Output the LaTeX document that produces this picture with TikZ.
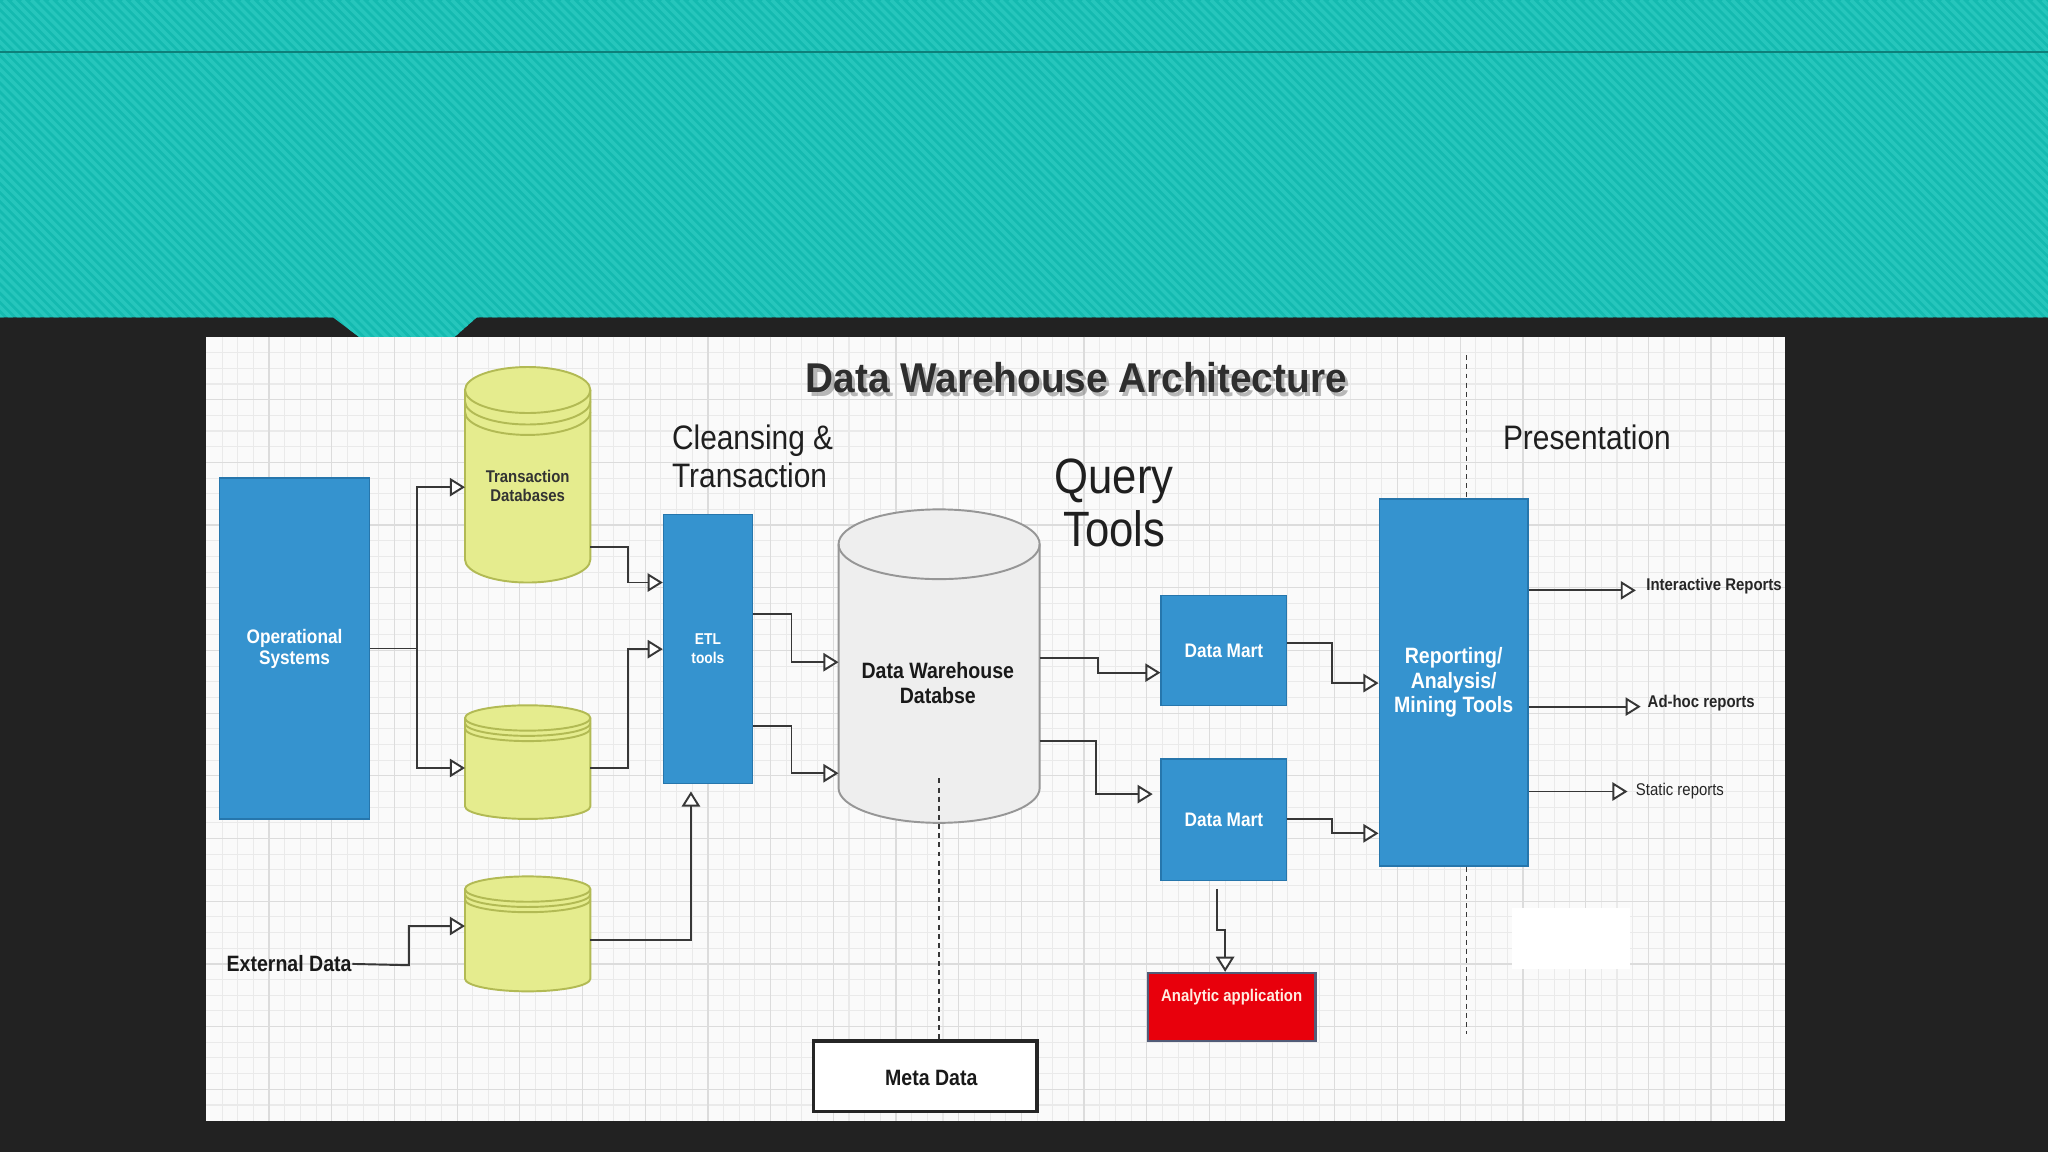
\documentclass[tikz,border=0pt]{standalone}
\usepackage{fontspec}
\setmainfont{Liberation Sans}
\newfontfamily\nar[FakeStretch=0.88]{Liberation Sans}
\newfontfamily\tnar[FakeStretch=0.93]{Liberation Sans}
\usetikzlibrary{arrows.meta,calc}
\newlength\pxu
\setlength\pxu{0.013061cm}
\definecolor{darkbg}{RGB}{34,34,34}
\definecolor{tealbase}{RGB}{20,186,176}
\definecolor{tealstripe}{RGB}{38,198,188}
\definecolor{tealline}{RGB}{14,128,122}
\definecolor{panelbg}{RGB}{250,250,250}
\definecolor{gridminor}{RGB}{234,234,234}
\definecolor{gridmajor}{RGB}{220,220,220}
\definecolor{boxblue}{RGB}{53,147,207}
\definecolor{boxblueb}{RGB}{38,118,172}
\definecolor{ylw}{RGB}{229,236,142}
\definecolor{ylwb}{RGB}{178,186,84}
\definecolor{dwfill}{RGB}{238,238,238}
\definecolor{dwb}{RGB}{150,150,150}
\definecolor{redbox}{RGB}{232,0,12}
\definecolor{redboxb}{RGB}{82,92,120}
\definecolor{ink}{RGB}{40,40,40}
\definecolor{lineink}{RGB}{55,55,55}
\newcommand\fpx[2]{\fontsize{#1}{#2}\selectfont}
\tikzset{
  cylline/.style={line width=0.55pt},
  bbox/.style={rectangle, draw=boxblueb, fill=boxblue, line width=0.4pt, text=white, align=center, inner sep=0pt},
  ghost/.style={rectangle, inner sep=0pt, outer sep=0pt},
  txt/.style={inner sep=0pt, align=center, text=ink},
  conn/.style={draw=lineink, line width=0.55pt, -{Triangle[length=4.3pt,width=5.2pt,fill=white]}},
  plainline/.style={draw=lineink, line width=0.55pt},
  dashline/.style={draw=lineink, line width=0.4pt, dash pattern=on 1.4pt off 1.2pt},
  stripe/.style={draw=tealstripe, line width=1pt},
  titlefont/.style={font=\tnar\bfseries\fpx{11.85pt}{12.4pt}, inner sep=0pt},
}
\newcommand\cylarc[5]{%
  \pgfmathsetmacro\caCX{(#1+#2)/2}%
  \pgfmathsetmacro\caKX{0.5523*(#2-#1)/2}%
  \pgfmathsetmacro\caKY{0.5523*#4}%
  \draw[draw=#5, cylline] (#1,#3) .. controls (#1,#3+\caKY) and (\caCX-\caKX,#3+#4) .. (\caCX,#3+#4) .. controls (\caCX+\caKX,#3+#4) and (#2,#3+\caKY) .. (#2,#3);%
}
\newcommand\mycyl[7]{%
  \pgfmathsetmacro\cyCX{(#1+#2)/2}%
  \pgfmathsetmacro\cyKX{0.5523*(#2-#1)/2}%
  \pgfmathsetmacro\cyKY{0.5523*#5}%
  \pgfmathsetmacro\cyTC{#3+#5}%
  \pgfmathsetmacro\cyBC{#4-#5}%
  \path[fill=#6, draw=#7, cylline]
    (#1,\cyTC) -- (#1,\cyBC)
    .. controls (#1,\cyBC+\cyKY) and (\cyCX-\cyKX,#4) .. (\cyCX,#4)
    .. controls (\cyCX+\cyKX,#4) and (#2,\cyBC+\cyKY) .. (#2,\cyBC)
    -- (#2,\cyTC)
    .. controls (#2,\cyTC-\cyKY) and (\cyCX+\cyKX,#3) .. (\cyCX,#3)
    .. controls (\cyCX-\cyKX,#3) and (#1,\cyTC-\cyKY) .. (#1,\cyTC) -- cycle;%
  \cylarc{#1}{#2}{\cyTC}{#5}{#7}%
}
\begin{document}
\begin{tikzpicture}[x=0.013061cm, y=-0.013061cm]
\useasboundingbox (0,0) rectangle (1568,882);
% background
\fill[darkbg] (0,0) rectangle (1568,882);
\fill[tealbase] (0,0) -- (1568,0) -- (1568,243) -- (365,243) -- (348,258) -- (275,258) -- (255,243) -- (0,243) -- cycle;
\begin{scope}
  \clip (0,0) -- (1568,0) -- (1568,243) -- (365,243) -- (348,258) -- (275,258) -- (255,243) -- (0,243) -- cycle;
  \foreach \s in {-270,-263,...,1568} \draw[stripe] (\s,0) -- (\s+270,270);
\end{scope}
\draw[tealline, line width=0.6pt] (0,40) -- (1568,40);
% panel
\fill[panelbg] (158,258) rectangle (1367,858);
\foreach \gx in {170,182,...,1366} \draw[gridminor, line width=0.3pt] (\gx,258) -- (\gx,858);
\foreach \gy in {270,282,...,857} \draw[gridminor, line width=0.3pt] (158,\gy) -- (1367,\gy);
\foreach \gx in {206,254,...,1366} \draw[gridmajor, line width=0.35pt] (\gx,258) -- (\gx,858);
\foreach \gy in {306,354,...,857} \draw[gridmajor, line width=0.35pt] (158,\gy) -- (1367,\gy);
% title with drop shadow
\node[titlefont, text=black!60, opacity=0.45] (tshadow) at (826.5,292.5) {Data Warehouse Architecture};
\node[titlefont, text=black!82] (title) at (824,289) {Data Warehouse Architecture};
% section labels
\node[txt, align=left, anchor=west, font=\nar\fpx{9.66pt}{10.78pt}, text=black!88] (clean) at (514,349.5) {Cleansing \&\\Transaction};
\node[txt, font=\nar\fpx{14.12pt}{15.24pt}, text=black!88] (query) at (853,385) {Query\\Tools};
\node[txt, font=\nar\fpx{9.66pt}{10.78pt}, text=black!88] (pres) at (1215,335) {Presentation};
% cylinders
\mycyl{356}{452}{281}{446}{17.6}{ylw}{ylwb}
\cylarc{356}{452}{307.4}{17.6}{ylwb}
\cylarc{356}{452}{315.4}{17.6}{ylwb}
\mycyl{356}{452}{540}{627}{9.7}{ylw}{ylwb}
\cylarc{356}{452}{553.7}{9.7}{ylwb}
\cylarc{356}{452}{557.7}{9.7}{ylwb}
\mycyl{356}{452}{671}{759}{9.7}{ylw}{ylwb}
\cylarc{356}{452}{684.7}{9.7}{ylwb}
\cylarc{356}{452}{688.7}{9.7}{ylwb}
\mycyl{642}{796}{390}{630}{26.7}{dwfill}{dwb}
\node[ghost, minimum width=96*\pxu, minimum height=165*\pxu] (tdb) at (404,363.5) {};
\node[ghost, minimum width=96*\pxu, minimum height=87*\pxu] (db2) at (404,583.5) {};
\node[ghost, minimum width=96*\pxu, minimum height=88*\pxu] (db3) at (404,715) {};
\node[ghost, minimum width=154*\pxu, minimum height=240*\pxu] (dw) at (719,510) {};
\node[txt, font=\nar\bfseries\fpx{4.83pt}{5.3pt}, text=black!80] (tdbl) at (404,372) {Transaction\\Databases};
\node[txt, font=\nar\bfseries\fpx{6.32pt}{6.9pt}, text=black!90] (dwl) at (718,523) {Data Warehouse\\Databse};
% boxes
\node[bbox, minimum width=115*\pxu, minimum height=261*\pxu, font=\nar\bfseries\fpx{5.57pt}{6.0pt}] (os) at (225.5,496.5) {Operational\\Systems};
\node[bbox, minimum width=68*\pxu, minimum height=206*\pxu, font=\nar\bfseries\fpx{4.46pt}{5.4pt}] (etl) at (542,497) {ETL\\tools};
\node[bbox, minimum width=96*\pxu, minimum height=84*\pxu, font=\nar\bfseries\fpx{5.57pt}{6.1pt}] (dm1) at (937,498) {Data Mart};
\node[bbox, minimum width=96*\pxu, minimum height=93*\pxu, font=\nar\bfseries\fpx{5.57pt}{6.1pt}] (dm2) at (937,627.5) {Data Mart};
\node[bbox, minimum width=114*\pxu, minimum height=281*\pxu, font=\nar\bfseries\fpx{6.32pt}{6.9pt}] (rep) at (1113,522.5) {Reporting/\\Analysis/\\Mining Tools};
\node[rectangle, draw=black!85, fill=white, line width=0.9pt, minimum width=171*\pxu, minimum height=54*\pxu, inner sep=0pt] (meta) at (708.5,824) {};
\node[txt, font=\nar\bfseries\fpx{6.32pt}{6.9pt}, text=black!90] (metal) at (713,825) {Meta Data};
\node[rectangle, draw=redboxb, fill=redbox, line width=0.7pt, minimum width=128*\pxu, minimum height=52*\pxu, inner sep=0pt] (ana) at (943,771) {};
\node[txt, font=\nar\bfseries\fpx{4.83pt}{5.3pt}, text={rgb,255:red,255;green,236;blue,225}] (anal) at (943,763.5) {Analytic application};
\fill[white] (1158,695) rectangle (1248,742);
% plain texts
\node[txt, anchor=west, font=\nar\bfseries\fpx{6.32pt}{6.9pt}, text=black!90] (ext) at (173,738) {External Data};
\node[txt, anchor=west, font=\nar\bfseries\fpx{4.83pt}{5.3pt}, text=black!85] (ir) at (1260,448.5) {Interactive Reports};
\node[txt, anchor=west, font=\nar\bfseries\fpx{4.83pt}{5.3pt}, text=black!85] (ah) at (1261,538.5) {Ad-hoc reports};
\node[txt, anchor=west, font=\nar\fpx{4.83pt}{5.3pt}, text=black!85] (sr) at (1252,606) {Static reports};
% connectors
\coordinate (jos) at (319,496.5);
\draw[plainline] (os.east) -- (jos);
\draw[conn] (jos) |- (tdb.west |- 0,373);
\draw[conn] (jos) |- (db2.west |- 0,588);
\draw[conn] (tdb.east |- 0,419) -- (481,419) |- (etl.west |- 0,446);
\draw[conn] (db2.east |- 0,588) -- (481,588) |- (etl.west |- 0,497);
\draw[conn, shorten >=2pt] (db3.east |- 0,720) -| (etl.south -| 529,0);
\draw[conn] (ext.east) -- (313,739) |- (db3.west |- 0,709);
\draw[conn] (etl.east |- 0,470) -- (606,470) |- (dw.west |- 0,507);
\draw[conn] (etl.east |- 0,556) -- (606,556) |- (dw.west |- 0,592);
\draw[conn] (dw.east |- 0,504) -- (841,504) |- (dm1.west |- 0,515);
\draw[conn, shorten >=2.2pt] (dw.east |- 0,567) -- (839,567) |- (dm2.west |- 0,608);
\draw[conn] (dm1.east |- 0,492) -- (1020,492) |- (rep.west |- 0,523);
\draw[conn] (dm2.east |- 0,627) -- (1020,627) |- (rep.west |- 0,638);
\draw[conn, shorten <=2.2pt] (dm2.south -| 932,0) -- (932,712) -| (ana.north -| 938,0);
\draw[conn, shorten >=2.8pt] (rep.east |- 0,452) -- (ir.west |- 0,452);
\draw[conn, shorten >=1.8pt] (rep.east |- 0,541) -- (ah.west |- 0,541);
\draw[conn, shorten >=2.2pt] (rep.east |- 0,606) -- (sr.west |- 0,606);
% dashed separators
\draw[dashline] (1123,272) -- (rep.north -| 1123,0);
\draw[dashline] (rep.south -| 1123,0) -- (1123,792);
\draw[dashline] (719,596) -- (meta.north -| 719,0);
\end{tikzpicture}
\end{document}
